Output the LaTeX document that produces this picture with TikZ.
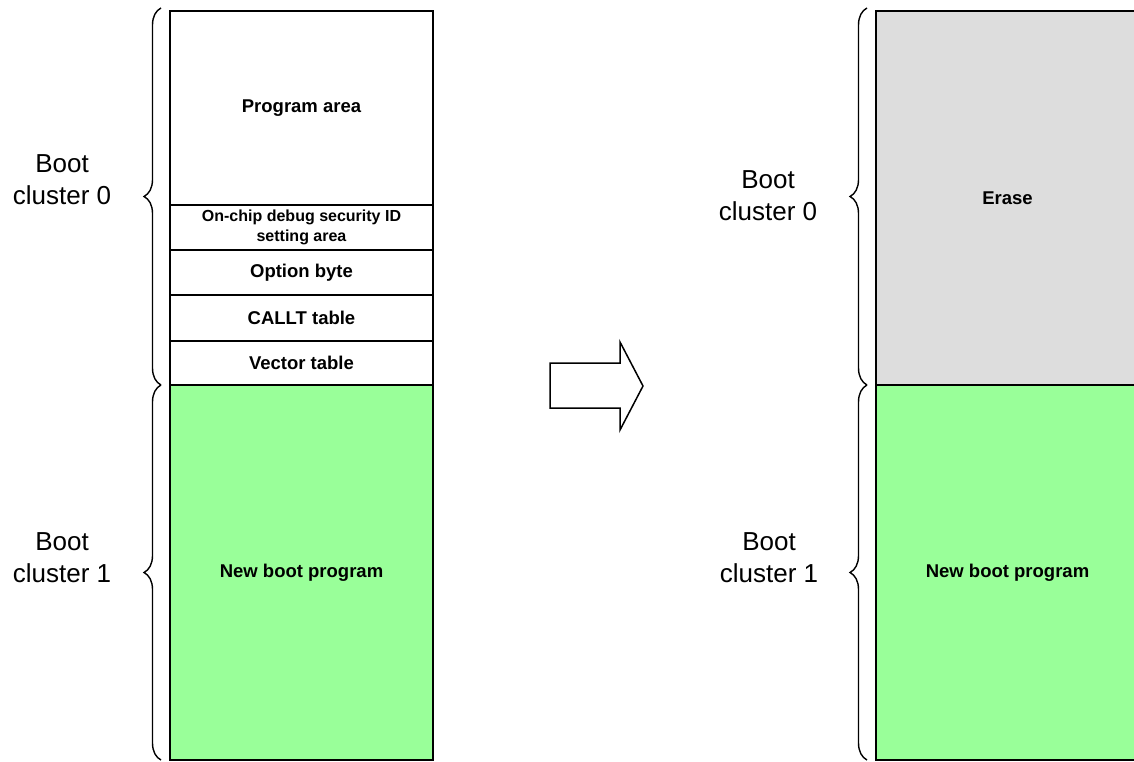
\documentclass[tikz,border=0pt]{standalone}
\usepackage{fontspec}
\setmainfont{Liberation Sans}
\usepackage{xcolor}
\usetikzlibrary{positioning,decorations.pathreplacing}
\definecolor{newboot}{RGB}{153,255,153}
\definecolor{erased}{RGB}{221,221,221}
\newcommand{\areafont}{\fontsize{18.5}{22}\selectfont\bfseries}
\newcommand{\smallareafont}{\fontsize{16}{20}\selectfont\bfseries}
\tikzstyle{area}=[draw, line width=2pt, minimum width=263pt, outer sep=0pt, inner sep=0pt, align=center, font=\areafont]
\tikzstyle{newboot}=[fill = newboot]
\tikzstyle{erased}=[fill = erased]
\tikzstyle{cluster}=[align=center, font=\fontsize{26}{32}\selectfont]
\tikzstyle{bracket}=[decorate, decoration={brace, amplitude=17pt}, line width=1.4pt]

\begin{document}
\begin{tikzpicture}[x=1pt,y=-1pt]
  \useasboundingbox (0,0) rectangle (1134,762);

  %% Before
  \draw (301.5,11) node[area, anchor=north, minimum height=194pt] (PA) {\raisebox{-4pt}{Program area}};
  \node[area, below=0pt of PA, minimum height=45pt, font=\smallareafont] (ID) {On-chip debug security ID\\setting area};
  \node[area, below=0pt of ID, minimum height=45pt] (OB) {Option byte};
  \node[area, below=0pt of OB, minimum height=46pt] (CT) {CALLT table};
  \node[area, below=0pt of CT, minimum height=44pt] (VT) {Vector table};
  \node[area, newboot, below=0pt of VT, minimum height=375pt] (NB1) {New boot program};

  \draw[bracket] ([xshift=-9pt]VT.south west) -- ([xshift=-9pt,yshift=3pt]PA.north west);
  \draw[bracket] ([xshift=-9pt]NB1.south west) -- ([xshift=-9pt]VT.south west);
  \draw (62,180) node[cluster] (C01) {Boot\\cluster 0};
  \draw (62,558) node[cluster] (C11) {Boot\\cluster 1};

  %% Step
  \draw[line width=1.5pt, fill=white] (550,363) -- (620,363) -- (620,342) -- (643,386)
    -- (620,430) -- (620,408) -- (550,408) -- cycle;

  %% After
  \draw (1007.5,11) node[area, erased, anchor=north, minimum height=374pt] (ER) {Erase};
  \node[area, newboot, below=0pt of ER, minimum height=375pt] (NB2) {New boot program};

  \draw[bracket] ([xshift=-9pt]ER.south west) -- ([xshift=-9pt,yshift=3pt]ER.north west);
  \draw[bracket] ([xshift=-9pt]NB2.south west) -- ([xshift=-9pt]ER.south west);
  \draw (768,196) node[cluster] (C02) {Boot\\cluster 0};
  \draw (769,558) node[cluster] (C12) {Boot\\cluster 1};
\end{tikzpicture}
\end{document}
